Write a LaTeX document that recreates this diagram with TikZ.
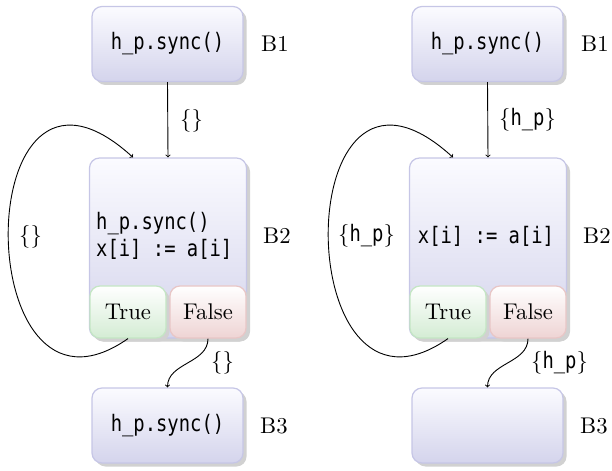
\documentclass[tikz,border=0pt]{standalone}
\usepackage{fontspec}
\setmainfont{lmroman10-regular.otf}
\newfontfamily\codefont{DejaVu Sans Mono}[FakeStretch=0.83]
\usetikzlibrary{shadows,calc}
\definecolor{bxtop}{RGB}{251,251,255}
\definecolor{bxbot}{RGB}{212,212,236}
\definecolor{bxline}{RGB}{198,198,230}
\definecolor{grbot}{RGB}{212,236,212}
\definecolor{grline}{RGB}{196,230,196}
\definecolor{rdbot}{RGB}{238,212,212}
\definecolor{rdline}{RGB}{232,198,198}
\newcommand{\cd}{\codefont\fontsize{22.7bp}{27.2bp}\selectfont}
\tikzset{
  every node/.style={font=\fontsize{22.7bp}{27.2bp}\selectfont},
  shadowed/.style={drop shadow={shadow xshift=3.5bp,shadow yshift=-3.5bp,fill=black!18,opacity=1}},
  blockbox/.style={shadowed, rounded corners=10bp, draw=bxline, line width=1.2bp,
    top color=bxtop, bottom color=bxbot, inner sep=0pt},
  truebox/.style={shadowed, rounded corners=10bp, draw=grline, line width=1.2bp,
    top color=white, bottom color=grbot, inner sep=0pt, minimum width=76bp, minimum height=52bp},
  falsebox/.style={shadowed, rounded corners=10bp, draw=rdline, line width=1.2bp,
    top color=white, bottom color=rdbot, inner sep=0pt, minimum width=76bp, minimum height=52bp},
  smallbox/.style={blockbox, minimum width=151bp, minimum height=75bp},
  bigbox/.style={blockbox, minimum width=157bp, minimum height=180bp},
  blabel/.style={anchor=west, inner sep=0pt},
  elabel/.style={anchor=west, inner sep=0pt},
  arr/.style={->, line width=0.9bp},
}
\begin{document}
\begin{tikzpicture}[x=1bp,y=-1bp]
\useasboundingbox (0,0) rectangle (612,471);
% ---------- left ----------
\node[smallbox] (lb1) at (167.5,44) {\cd h\_p.sync()};
\node[bigbox] (lb2) at (168,248) {};
\node[anchor=west, inner sep=0pt, align=left, font=\cd] (lb2t) at (96,236) {h\_p.sync()\\x[i] := a[i]};
\node[truebox] (ltrue) at (128,312) {True};
\node[falsebox] (lfalse) at (208,312) {False};
\node[smallbox] (lb3) at (167.5,425.5) {\cd h\_p.sync()};
\node[blabel] (lb1l) at (261,44) {B1};
\node[blabel] (lb2l) at (263,236) {B2};
\node[blabel] (lb3l) at (260,426) {B3};
\draw[arr] (lb1.south) -- (lb2.north);
\draw[arr] (ltrue.south) .. controls +(-160,112) and +(-166,-152) .. ([xshift=-35bp]lb2.north);
\draw[arr] (lfalse.south) to[out=-90,in=90] (lb3.north);
\node[elabel] (le1) at (180,121) {\{\}};
\node[elabel] (le2) at (19,237) {\{\}};
\node[elabel] (le3) at (211,363) {\{\}};
% ---------- right ----------
\node[smallbox] (rb1) at (487.5,44) {\cd h\_p.sync()};
\node[bigbox] (rb2) at (488,248) {};
\node[anchor=center, inner sep=0pt, font=\cd] (rb2t) at (486,236) {x[i] := a[i]};
\node[truebox] (rtrue) at (448,312) {True};
\node[falsebox] (rfalse) at (528,312) {False};
\node[smallbox] (rb3) at (487.5,425.5) {};
\node[blabel] (rb1l) at (581,44) {B1};
\node[blabel] (rb2l) at (583,236) {B2};
\node[blabel] (rb3l) at (580,426) {B3};
\draw[arr] (rb1.south) -- (rb2.north);
\draw[arr] (rtrue.south) .. controls +(-160,112) and +(-166,-152) .. ([xshift=-35bp]rb2.north);
\draw[arr] (rfalse.south) to[out=-90,in=90] (rb3.north);
\node[elabel] (re1) at (499,120) {\{{\cd h\_p}\}};
\node[elabel] (re2) at (338,236) {\{{\cd h\_p}\}};
\node[elabel] (re3) at (531,363) {\{{\cd h\_p}\}};
\end{tikzpicture}
\end{document}
